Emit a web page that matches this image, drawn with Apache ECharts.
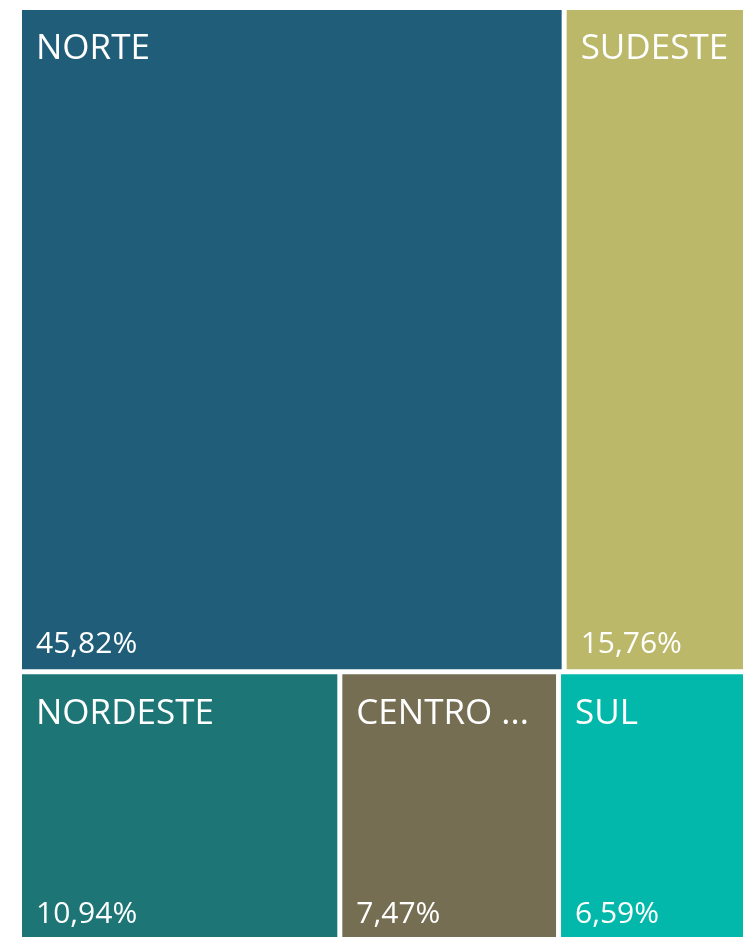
<!DOCTYPE html>
<html>
<head>
<meta charset="utf-8">
<script src="https://cdn.jsdelivr.net/npm/echarts@6/dist/echarts.min.js"></script>
<style>
  html, body { margin: 0; padding: 0; background: #fff; }
  #main { width: 743px; height: 937px; }
</style>
</head>
<body>
<div id="main"></div>
<script>
// dados
const regioes = ['NORTE', 'SUDESTE', 'NORDESTE', 'CENTRO OESTE', 'SUL'];
const percentuais = [45.82, 15.76, 10.94, 7.47, 6.59];
const cores = ['#1F5D79', '#BBB86A', '#1E7576', '#756E52', '#02B8AA'];

const fonte = '"Open Sans", "Noto Sans", sans-serif';

const montaDados = (transparente) => regioes.map((nome, i) => ({
  name: nome,
  value: percentuais[i],
  itemStyle: { color: transparente ? 'rgba(0,0,0,0)' : cores[i] }
}));

const formataPct = (v) => v.toFixed(2).replace('.', ',') + '%';

// as duas series usam o mesmo layout, a segunda so carrega o rotulo de baixo
const base = () => ({
  type: 'treemap',
  left: 22,
  top: 10,
  width: 727,
  height: 929,
  roam: false,
  nodeClick: false,
  silent: true,
  animation: false,
  breadcrumb: { show: false },
  emphasis: { disabled: true }
});

const chart = echarts.init(document.getElementById('main'));
chart.setOption({
  backgroundColor: '#fff',
  series: [
    Object.assign(base(), {
      data: montaDados(false),
      levels: [
        { itemStyle: { gapWidth: 5, borderWidth: 0, borderColor: '#fff' } },
        { itemStyle: { borderWidth: 0 } }
      ],
      label: {
        show: true,
        position: 'insideTopLeft',
        distance: 0,
        padding: [22, 8, 0, 14],
        formatter: '{b}',
        color: '#fff',
        fontFamily: fonte,
        fontSize: 35,
        lineHeight: 35
      }
    }),
    Object.assign(base(), {
      data: montaDados(true),
      levels: [
        { itemStyle: { gapWidth: 5, borderWidth: 0, borderColor: 'rgba(0,0,0,0)' } },
        { itemStyle: { borderWidth: 0 } }
      ],
      label: {
        show: true,
        position: 'insideBottomLeft',
        distance: 0,
        padding: [0, 8, 10, 14],
        formatter: (p) => formataPct(p.value),
        color: '#fff',
        fontFamily: fonte,
        fontSize: 30,
        lineHeight: 30
      }
    })
  ]
});
</script>
</body>
</html>
